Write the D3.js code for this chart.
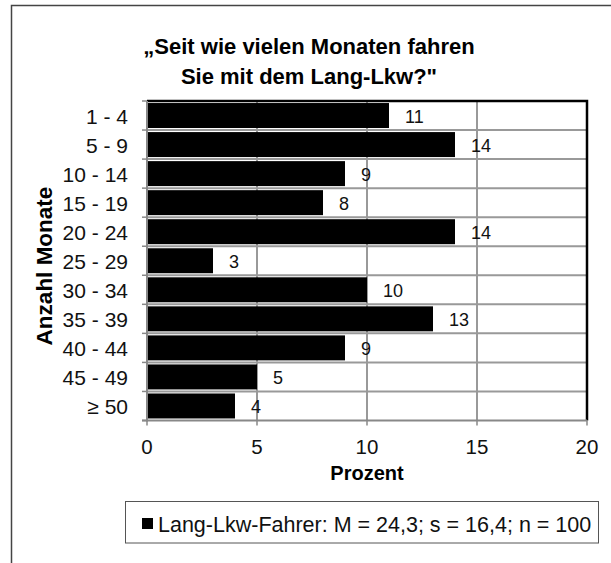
<!DOCTYPE html>
<html><head><meta charset="utf-8">
<script src="https://cdn.jsdelivr.net/npm/d3@7"></script>
<style>body{margin:0;background:#fff;} svg{display:block;font-family:"Liberation Sans",Arial,sans-serif;}</style>
</head><body>
<script>
const categories = ["1 - 4","5 - 9","10 - 14","15 - 19","20 - 24","25 - 29","30 - 34","35 - 39","40 - 44","45 - 49","≥ 50"];
const values = [11,14,9,8,14,3,10,13,9,5,4];
const xTicks = [0,5,10,15,20];
const titleLines = ["„Seit wie vielen Monaten fahren","Sie mit dem Lang-Lkw?\""];
const legendText = "Lang-Lkw-Fahrer: M = 24,3; s = 16,4; n = 100";

const W=611,H=563;
const svg=d3.select("body").append("svg").attr("width",W).attr("height",H);
svg.append("rect").attr("width",W).attr("height",H).attr("fill","#fff");
// outer frame (cropped)
svg.append("path").attr("d","M11.5,563 V5.5 H611").attr("fill","none").attr("stroke","#444").attr("stroke-width",1.5);

const L=147,R=587,T=101,B=420.5;
const x=d3.scaleLinear().domain([0,20]).range([L,R]);
const y=d3.scaleBand().domain(categories).range([T,B]).paddingInner(0.14).paddingOuter(0.07);

// title
svg.append("text").attr("x",309).attr("y",54).attr("text-anchor","middle")
  .attr("font-size",22).attr("font-weight","bold").text(titleLines[0]);
svg.append("text").attr("x",309).attr("y",84).attr("text-anchor","middle")
  .attr("font-size",22).attr("font-weight","bold").text(titleLines[1]);

// grid
const step=(B-T)/categories.length;
for(let i=1;i<categories.length;i++){
  svg.append("line").attr("x1",L).attr("x2",R).attr("y1",T+i*step).attr("y2",T+i*step).attr("stroke","#999").attr("stroke-width",2);
}
xTicks.slice(1,-1).forEach(t=>{
  svg.append("line").attr("x1",x(t)).attr("x2",x(t)).attr("y1",T).attr("y2",B).attr("stroke","#999").attr("stroke-width",2);
});

// bars
svg.selectAll("rect.bar").data(values).enter().append("rect").attr("class","bar")
  .attr("x",x(0)).attr("y",(d,i)=>y(categories[i])).attr("width",d=>x(d)-x(0)).attr("height",y.bandwidth()).attr("fill","#000");

// value labels
svg.selectAll("text.val").data(values).enter().append("text").attr("class","val")
  .attr("x",d=>x(d)+16).attr("y",(d,i)=>y(categories[i])+y.bandwidth()/2+7.5)
  .attr("font-size",18).attr("fill","#111").text(d=>d);

// plot border top/right
svg.append("path").attr("d",`M${L},${T} H${R} V${B}`).attr("fill","none").attr("stroke","#000").attr("stroke-width",2.5);

// y axis
const yAxisG=svg.append("g");
yAxisG.append("line").attr("x1",L).attr("x2",L).attr("y1",T).attr("y2",B+1).attr("stroke","#888").attr("stroke-width",2);
for(let i=0;i<=categories.length;i++){
  yAxisG.append("line").attr("x1",L-5).attr("x2",L).attr("y1",T+i*step).attr("y2",T+i*step).attr("stroke","#888").attr("stroke-width",1.5);
}
categories.forEach(c=>{
  yAxisG.append("text").attr("x",128).attr("y",y(c)+y.bandwidth()/2+8.5).attr("text-anchor","end")
    .attr("font-size",21).attr("fill","#111").text(c);
});

// x axis
const xAxisG=svg.append("g");
xAxisG.append("line").attr("x1",L-5).attr("x2",R).attr("y1",B).attr("y2",B).attr("stroke","#888").attr("stroke-width",2);
xTicks.forEach(t=>{
  xAxisG.append("line").attr("x1",x(t)).attr("x2",x(t)).attr("y1",B).attr("y2",B+5).attr("stroke","#888").attr("stroke-width",1.5);
  xAxisG.append("text").attr("x",x(t)).attr("y",454).attr("text-anchor","middle").attr("font-size",20.5).attr("fill","#111").text(t);
});

// axis titles
svg.append("text").attr("x",367).attr("y",480).attr("text-anchor","middle").attr("font-size",20).attr("font-weight","bold").text("Prozent");
svg.append("text").attr("transform","translate(52,266) rotate(-90)").attr("text-anchor","middle").attr("font-size",22.5).attr("font-weight","bold").text("Anzahl Monate");

// legend
svg.append("rect").attr("x",125.5).attr("y",501.5).attr("width",473).attr("height",41.5).attr("fill","#fff").attr("stroke","#555").attr("stroke-width",1);
svg.append("rect").attr("x",142).attr("y",518).attr("width",11).attr("height",11).attr("fill","#000");
svg.append("text").attr("x",158).attr("y",531.5).attr("font-size",21.5).attr("fill","#111").text(legendText);
</script>
</body></html>
